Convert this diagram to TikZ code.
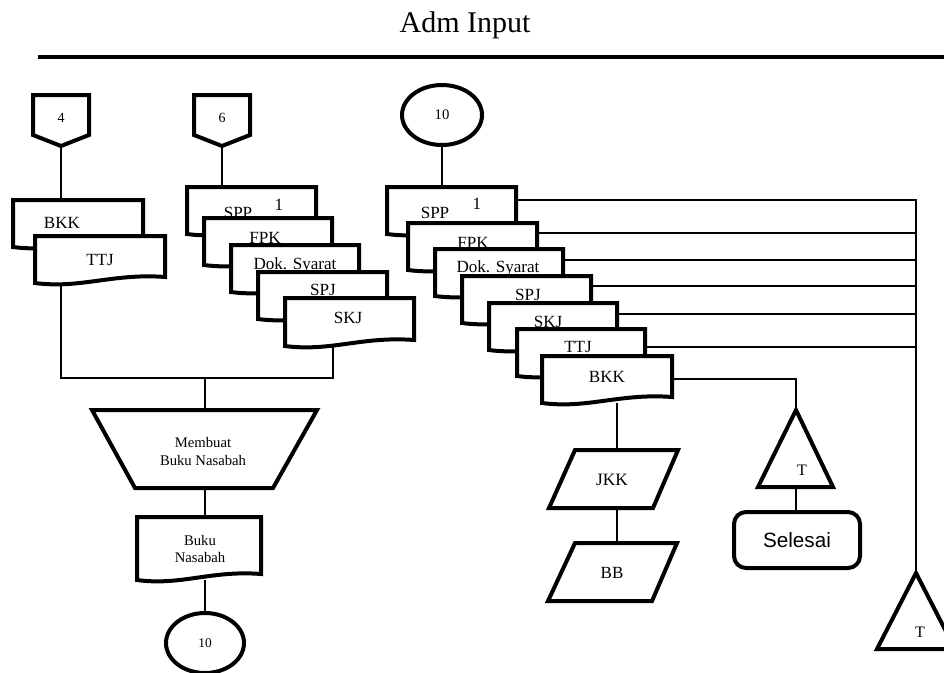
\documentclass[tikz,border=0pt]{standalone}
\usepackage{fontspec}
\setmainfont{Liberation Serif}
\newfontfamily\labelsans{Liberation Sans}
\usetikzlibrary{shapes.geometric}

\tikzset{
  outline/.style={line width=3pt, line join=miter, fill=white},
  link/.style={line width=1.1pt},
  rule/.style={line width=3.5pt},
  doclabel/.style={inner sep=0pt, font=\fontsize{12.8}{13}\selectfont},
  smalllabel/.style={inner sep=0pt, font=\fontsize{10.5}{12}\selectfont},
  proclabel/.style={inner sep=0pt, align=center, font=\fontsize{11}{13.5}\selectfont},
  connector/.style={ellipse, draw, line width=3pt, fill=white, inner sep=0pt},
}

% document symbol: name, left x, top y, width, height at the left edge
\newcommand\docsym[5]{%
  \draw[outline] (#2,#3) coordinate (#1-nw) -- (#2+#4,#3) coordinate (#1-ne)
    -- (#2+#4,#3+#5-6) coordinate (#1-se)
    .. controls (#2+0.6*#4,#3+#5-10) and (#2+0.35*#4,#3+#5+6) .. (#2,#3+#5) coordinate (#1-sw)
    -- cycle;
}

% off-page connector: name, centre x, top y, label
\newcommand\offpage[4]{%
  \draw[outline] (#2-28,#3) -- (#2+28,#3) -- (#2+28,#3+40) -- (#2,#3+51) coordinate (#1-tip)
    -- (#2-28,#3+40) -- cycle;
  \node[smalllabel] (#1) at (#2,#3+23) {#4};
}

\begin{document}
\begin{tikzpicture}[x=0.75pt,y=-0.75pt]
\useasboundingbox (0,0) rectangle (944,672);
\clip (0,0) rectangle (944,672);

% heading and rule
\node[font=\fontsize{22.5}{26}\selectfont, anchor=base, inner sep=0pt] (title) at (465,32) {Adm Input};
\coordinate (ruleL) at (38,57);
\coordinate (ruleR) at (944,57);
\draw[rule] (ruleL) -- (ruleR);

% ---------- left column ----------
\offpage{op4}{61}{95}{4}
\docsym{bkkL}{13}{200}{130}{47}
\node[doclabel] (bkkLt) at (62,223) {BKK};
\docsym{ttjL}{35}{236}{130}{47}
\node[doclabel] (ttjLt) at (100,260) {TTJ};

% ---------- middle stack ----------
\offpage{op6}{222}{95}{6}
\docsym{sppM}{187}{187}{129}{47}
\node[doclabel] (sppMt) at (238,213) {SPP};
\node[doclabel] (sppMn) at (279,205) {1};
\docsym{fpkM}{204}{218}{128}{47}
\node[doclabel] (fpkMt) at (265,238) {FPK};
\docsym{dokM}{231}{245}{128}{47}
\node[doclabel] (dokMt) at (295,265) {Dok. Syarat};
\docsym{spjM}{258}{272}{129}{47}
\node[doclabel] (spjMt) at (323,290) {SPJ};
\docsym{skjM}{285}{298}{129}{48}
\node[doclabel] (skjMt) at (348,318) {SKJ};

% manual operation and its output
\draw[outline] (92,410) coordinate (tz-nw) -- (317,410) -- (273,488) -- (135,488) -- cycle;
\node[proclabel] (membuat) at (203,451) {Membuat\\Buku Nasabah};
\coordinate (tz-n) at (205,410);
\coordinate (tz-s) at (205,488);
\docsym{buku}{137}{517}{124}{63}
\node[proclabel, font=\fontsize{11}{12.75}\selectfont] (bukut) at (200,549) {Buku\\Nasabah};
\node[connector, minimum width=58.5pt, minimum height=45pt, font=\fontsize{10}{12}\selectfont] (c10b) at (205,643) {10};

% ---------- right stack ----------
\node[connector, minimum width=60pt, minimum height=45pt, font=\fontsize{11}{12}\selectfont] (c10a) at (442,115) {10};
\docsym{sppR}{387}{187}{129}{47}
\node[doclabel] (sppRt) at (435,213) {SPP};
\node[doclabel] (sppRn) at (477,204) {1};
\docsym{fpkR}{408}{223}{129}{47}
\node[doclabel] (fpkRt) at (473,243) {FPK};
\docsym{dokR}{435}{249}{128}{47}
\node[doclabel] (dokRt) at (498,268) {Dok. Syarat};
\docsym{spjR}{462}{276}{129}{47}
\node[doclabel] (spjRt) at (528,295) {SPJ};
\docsym{skjR}{489}{303}{128}{47}
\node[doclabel] (skjRt) at (548,322) {SKJ};
\docsym{ttjR}{517}{329}{128}{47}
\node[doclabel] (ttjRt) at (578,347) {TTJ};
\docsym{bkkR}{542}{356}{130}{47}
\node[doclabel] (bkkRt) at (607,377) {BKK};

% journal and ledger entries
\draw[outline] (575,450) -- (678,450) -- (653,508) -- (549,508) -- cycle;
\node[doclabel, font=\fontsize{13}{14}\selectfont] (jkk) at (612,480) {JKK};
\coordinate (jkk-n) at (617,450);
\coordinate (jkk-s) at (617,508);
\draw[outline] (575,543) -- (677,543) -- (652,601) -- (548,601) -- cycle;
\node[doclabel] (bb) at (612,573) {BB};
\coordinate (bb-n) at (617,543);

% archive symbols and terminator
\draw[outline] (796,410) coordinate (t1-apex) -- (833,487) -- (758,487) -- cycle;
\node[doclabel, font=\fontsize{12}{13}\selectfont] (t1) at (802,470) {T};
\coordinate (t1-base) at (796,487);
\node[draw, line width=3pt, rounded corners=9pt, minimum width=94.5pt, minimum height=42pt,
      font=\labelsans\fontsize{15.5}{18}\selectfont] (selesai) at (797,540) {Selesai};
\draw[outline] (916,573) coordinate (t2-apex) -- (955,649) -- (877,649) -- cycle;
\node[doclabel, font=\fontsize{12}{13}\selectfont] (t2) at (920,632) {T};

% ---------- connectors ----------
\draw[link] (op4-tip) -- (op4-tip |- bkkL-nw);
\coordinate (mergeL) at (61,378);
\coordinate (mergeR) at (333,378);
\coordinate (mergeM) at (205,378);
\draw[link] (op4-tip |- ttjL-sw) -- (mergeL) -- (mergeR) -- (mergeR |- skjM-sw);
\draw[link] (mergeM) -- (tz-n);
\draw[link] (op6-tip) -- (op6-tip |- sppM-nw);
\draw[link] (tz-s) -- (tz-s |- buku-nw);
\draw[link] (c10b.north |- buku-sw) -- (c10b.north);

\draw[link] (c10a.south) -- (c10a.south |- sppR-nw);
\draw[link] (sppR-ne) ++(0,13) coordinate (h1) -- (h1 -| t2-apex) -- (t2-apex);
\draw[link] (fpkR-ne) ++(0,10) coordinate (h2) -- (h2 -| t2-apex);
\draw[link] (dokR-ne) ++(0,11) coordinate (h3) -- (h3 -| t2-apex);
\draw[link] (spjR-ne) ++(0,10) coordinate (h4) -- (h4 -| t2-apex);
\draw[link] (skjR-ne) ++(0,11) coordinate (h5) -- (h5 -| t2-apex);
\draw[link] (ttjR-ne) ++(0,18) coordinate (h6) -- (h6 -| t2-apex);
\draw[link] (bkkR-ne) ++(0,23) coordinate (h7) -| (t1-apex);
\draw[link] (jkk-n |- bkkR-sw) -- (jkk-n);
\draw[link] (jkk-s) -- (bb-n);
\draw[link] (t1-base) -- (t1-base |- selesai.north);
\end{tikzpicture}
\end{document}
